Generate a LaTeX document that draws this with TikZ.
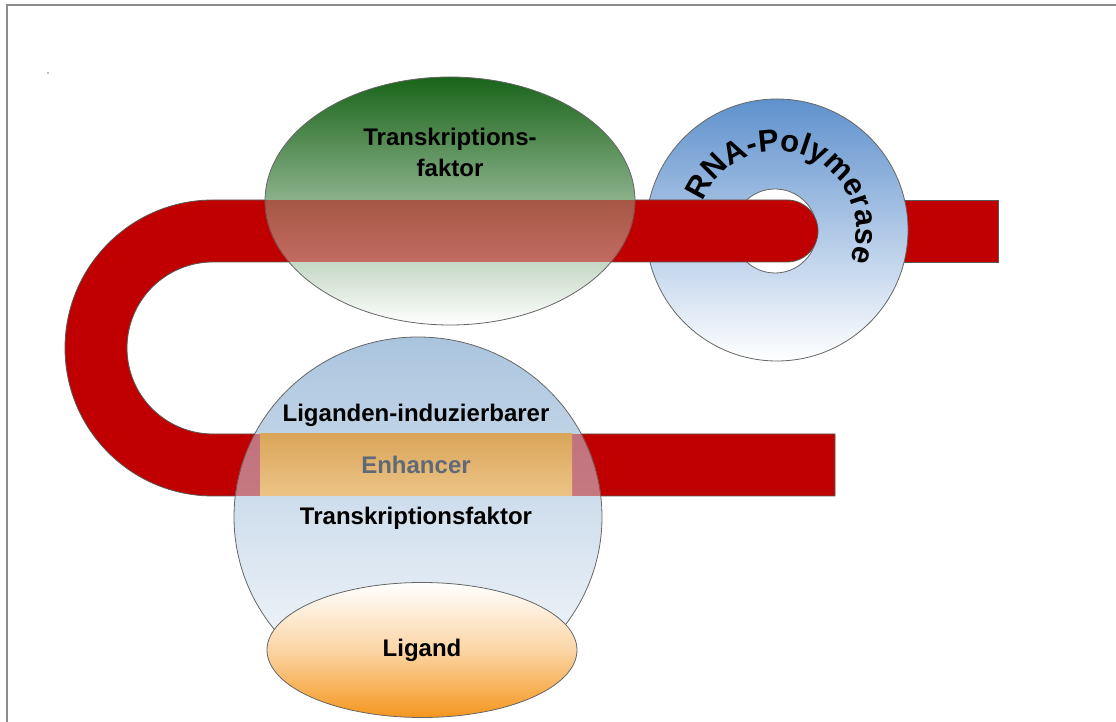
\documentclass[tikz,border=0pt]{standalone}
\usepackage{fontspec}
\setmainfont{Liberation Sans}
\usepackage{xcolor}
\usepackage{tikz}
\usetikzlibrary{positioning,shapes,decorations.text}

\definecolor{dnared}{RGB}{192,0,0}
\definecolor{tfgreen}{RGB}{25,100,25}
\definecolor{polblue}{RGB}{95,145,205}
\definecolor{ltfblue}{RGB}{170,196,222}
\definecolor{ligorange}{RGB}{245,150,30}
\definecolor{enhtop}{RGB}{218,165,90}
\definecolor{enhbot}{RGB}{236,196,135}
\definecolor{enhtext}{RGB}{95,105,120}
\newcommand\rnafont{\bfseries\fontsize{31}{31}\selectfont}

\begin{document}
\begin{tikzpicture}[x=1pt,y=1pt,
		lbl/.style={font=\bfseries\fontsize{24}{31}\selectfont, inner sep=0pt, align=center},
		body/.style={draw=black!60, line width=0.8pt},
		dna/.style={fill=dnared, draw=black!65, line width=0.8pt},
		tfshape/.style={body, ellipse, minimum width=370pt, minimum height=248pt,
			top color=tfgreen, bottom color=white},
		ltfshape/.style={body, ellipse, minimum width=368pt, minimum height=360pt,
			top color=ltfblue, bottom color=white!94!ltfblue},
		poldisk/.style={body, circle, minimum size=262pt, top color=polblue, bottom color=white},
		polhole/.style={body, circle, minimum size=84pt, fill=white},
		ligshape/.style={body, ellipse, minimum width=310pt, minimum height=135pt,
			top color=white, bottom color=ligorange, middle color=ligorange!40!white}]
		\tikzset{enhbox/.style={rectangle, minimum width=312pt, minimum height=62pt,
			top color=enhtop, bottom color=enhbot, text=enhtext}}
		\useasboundingbox (0,0) rectangle (1116,722);
		\draw[black!45, line width=2pt] (7,-20) rectangle (1140,717);
		\fill[black!35] (48,649) circle (1.2);

		\filldraw[dna] (880,460) rectangle (998,522);
		\node[poldisk] (pol) at (777,492) {};
		\node[polhole] (hole) at (775,491) {};

		\filldraw[dna] (213,522) -- (787,522) arc[start angle=90, end angle=-90, radius=31]
			-- (213,460) arc[start angle=90, end angle=270, radius=86]
			-- (835,288) -- (835,226) -- (213,226)
			arc[start angle=270, end angle=90, radius=148] -- cycle;

		\node[tfshape] (tf) at (450,521) {};
		\begin{scope}
			\clip (tf.center) ellipse [x radius=185, y radius=124];
			\fill[dnared, opacity=.5] (250,460) rectangle (650,522);
		\end{scope}
		\node[lbl] (tflabel) at (450,570) {Transkriptions-\\faktor};

		\node[ltfshape] (ltf) at (418,205) {};
		\begin{scope}
			\clip (ltf.center) ellipse [x radius=184, y radius=180];
			\fill[dnared, opacity=.45] (220,226) rectangle (620,288);
		\end{scope}
		\node[enhbox, lbl] (enh) at (416,257) {Enhancer};
		\node[lbl, above=7pt of enh] (ltfup) {Liganden-induzierbarer};
		\node[lbl, below=11pt of enh] (ltfdown) {Transkriptionsfaktor};

		\node[ligshape, lbl] (lig) at (422,72) {Ligand};

		\path[decorate, decoration={text along path, text align=center,
			text={|\rnafont|RNA-Polymerase}}]
			(pol.center) ++(170:79) arc[start angle=170, end angle=-34, radius=79];
	\end{tikzpicture}
\end{document}
